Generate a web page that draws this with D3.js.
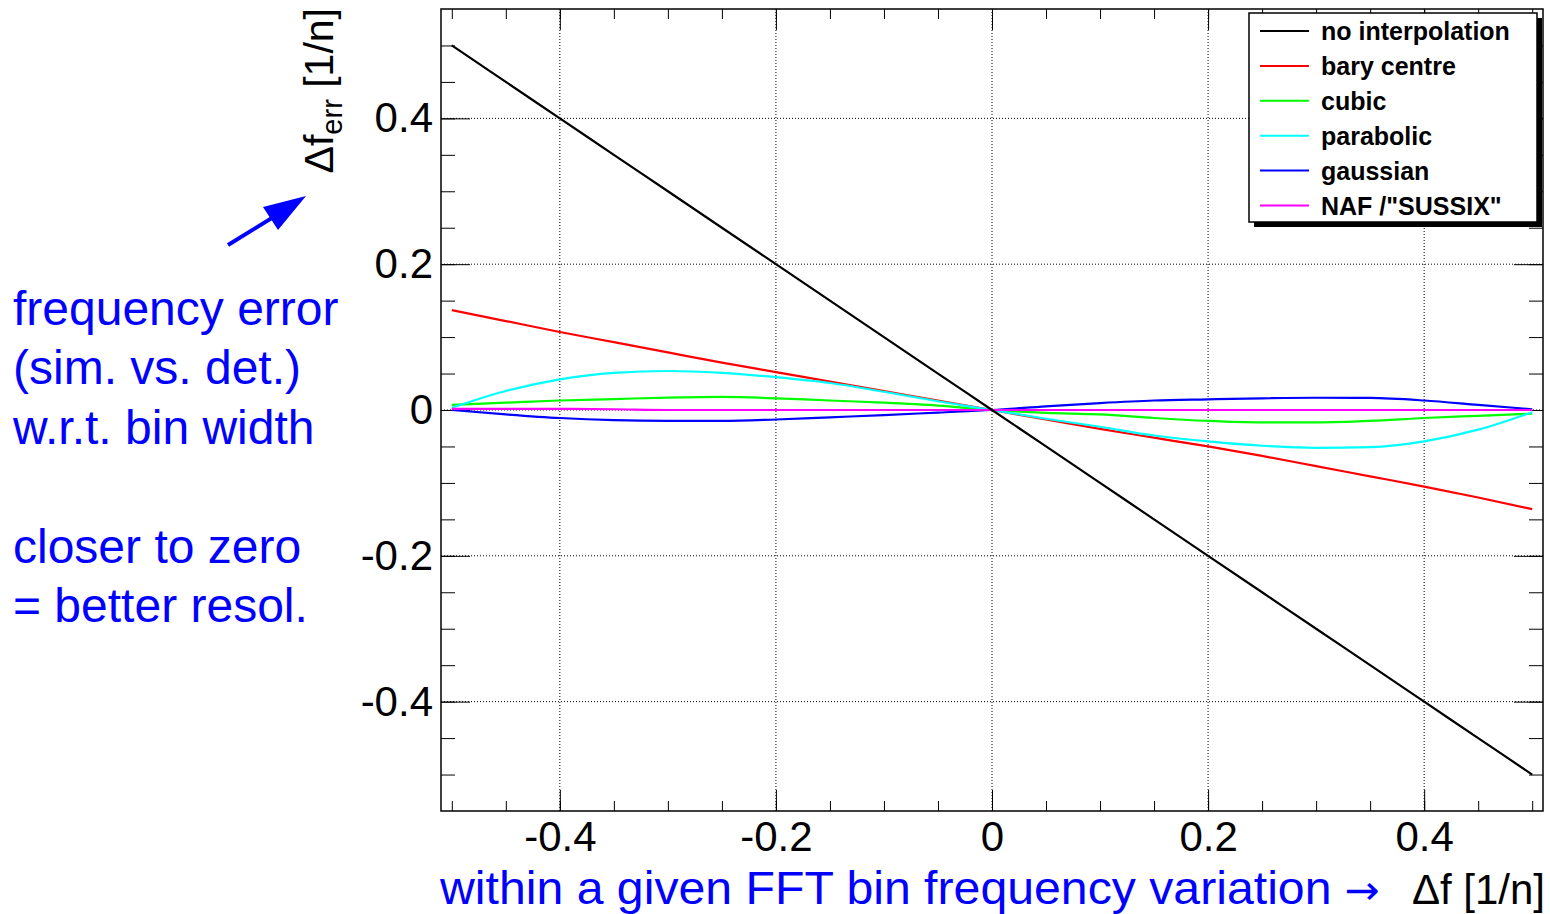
<!DOCTYPE html>
<html>
<head>
<meta charset="utf-8">
<script src="https://cdn.jsdelivr.net/npm/d3@7"></script>
<style>
  body { margin: 0; background: #fff; }
  svg { font-family: 'Liberation Sans', Arial, Helvetica, sans-serif; }
  .tick text { font-size: 42px; fill: #000; }
  .tick line { stroke: #000; }
  .legend-text { font-size: 25px; font-weight: bold; }
  .note { fill: #0000ff; font-size: 48px; }
</style>
</head>
<body>
<svg width="1550" height="914"></svg>
<script>
// frequency offset within the FFT bin [1/n]
const deltaF = [-0.5, -0.45, -0.4, -0.35, -0.3, -0.25, -0.2, -0.15, -0.1, -0.05, 0,
  0.05, 0.1, 0.15, 0.2, 0.25, 0.3, 0.35, 0.4, 0.45, 0.5];

// frequency error per method [1/n]
const noInterpolation = [0.5, 0.45, 0.4, 0.35, 0.3, 0.25, 0.2, 0.15, 0.1, 0.05, 0,
  -0.05, -0.1, -0.15, -0.2, -0.25, -0.3, -0.35, -0.4, -0.45, -0.5];
const baryCentre = [0.137, 0.122, 0.107, 0.093, 0.079, 0.065, 0.052, 0.039, 0.026, 0.013, 0,
  -0.013, -0.026, -0.038, -0.050, -0.063, -0.077, -0.091, -0.105, -0.120, -0.136];
const cubic = [0.007, 0.010, 0.013, 0.015, 0.017, 0.018, 0.016, 0.013, 0.010, 0.006, 0,
  -0.004, -0.006, -0.011, -0.015, -0.017, -0.017, -0.015, -0.011, -0.008, -0.005];
const parabolic = [0.003, 0.026, 0.042, 0.051, 0.0535, 0.051, 0.045, 0.037, 0.025, 0.012, 0,
  -0.012, -0.023, -0.035, -0.043, -0.049, -0.052, -0.051, -0.043, -0.027, -0.003];
const gaussian = [0.000, -0.006, -0.011, -0.014, -0.015, -0.015, -0.013, -0.010, -0.007, -0.0035, 0,
  0.005, 0.0095, 0.013, 0.0146, 0.016, 0.0168, 0.0165, 0.013, 0.007, 0.001];
const nafSussix = [0.0015, 0.0015, 0.0015, 0.001, 0, 0, 0, 0, 0, 0, 0,
  0, 0, 0, 0, 0, 0, 0, 0, 0, 0];

const seriesNames = ['no interpolation', 'bary centre', 'cubic', 'parabolic', 'gaussian', 'NAF /"SUSSIX"'];
const seriesColors = ['#000000', '#ff0000', '#00ff00', '#00ffff', '#0000ff', '#ff00ff'];
const seriesValues = [noInterpolation, baryCentre, cubic, parabolic, gaussian, nafSussix];

const majorTicks = [-0.4, -0.2, 0, 0.2, 0.4];
const minorTicks = [-0.5, -0.45, -0.4, -0.35, -0.3, -0.25, -0.2, -0.15, -0.1, -0.05, 0,
  0.05, 0.1, 0.15, 0.2, 0.25, 0.3, 0.35, 0.4, 0.45, 0.5];

const noteLines = ['frequency error', '(sim. vs. det.)', 'w.r.t. bin width', '', 'closer to zero', '= better resol.'];

const svg = d3.select('svg');

const frame = { left: 441, right: 1543, top: 9, bottom: 811 };

const xScale = d3.scaleLinear()
  .domain([-0.51, 0.51])
  .range([frame.left, frame.right]);

const yScale = d3.scaleLinear()
  .domain([-0.55, 0.55])
  .range([frame.bottom, frame.top]);

const fmt = d => d === 0 ? '0' : d3.format('.1f')(d).replace('−', '-');

// grid
const grid = svg.append('g');
grid.selectAll('.gx').data(majorTicks)
  .enter().append('line')
    .attr('x1', d => xScale(d)).attr('x2', d => xScale(d))
    .attr('y1', frame.top).attr('y2', frame.bottom)
    .attr('stroke', '#000').attr('stroke-width', 1)
    .attr('stroke-dasharray', '1,2');
grid.selectAll('.gy').data(majorTicks)
  .enter().append('line')
    .attr('y1', d => yScale(d)).attr('y2', d => yScale(d))
    .attr('x1', frame.left).attr('x2', frame.right)
    .attr('stroke', '#000').attr('stroke-width', 1)
    .attr('stroke-dasharray', '1,2');

// axes: ticks pointing inwards on all four sides
const addAxis = (axis, tx, ty) => {
  const g = svg.append('g')
    .attr('transform', `translate(${tx},${ty})`)
    .call(axis);
  g.select('.domain').remove();
  return g;
};

addAxis(d3.axisBottom(xScale).tickValues(minorTicks).tickFormat('').tickSize(-10), 0, frame.bottom);
addAxis(d3.axisBottom(xScale).tickValues(majorTicks).tickFormat(fmt).tickSize(-21).tickPadding(10), 0, frame.bottom);
addAxis(d3.axisTop(xScale).tickValues(minorTicks).tickFormat('').tickSize(-10), 0, frame.top);
addAxis(d3.axisTop(xScale).tickValues(majorTicks).tickFormat('').tickSize(-21), 0, frame.top);

addAxis(d3.axisLeft(yScale).tickValues(minorTicks).tickFormat('').tickSize(-14), frame.left, 0);
addAxis(d3.axisLeft(yScale).tickValues(majorTicks).tickFormat(fmt).tickSize(-29).tickPadding(8), frame.left, 0);
addAxis(d3.axisRight(yScale).tickValues(minorTicks).tickFormat('').tickSize(-14), frame.right, 0);
addAxis(d3.axisRight(yScale).tickValues(majorTicks).tickFormat('').tickSize(-29), frame.right, 0);

svg.selectAll('.tick text').attr('font-family', null);

// curves
const line = d3.line()
  .x((d, i) => xScale(deltaF[i]))
  .y(d => yScale(d))
  .curve(d3.curveMonotoneX);

const drawOrder = [1, 2, 3, 4, 5, 0];
svg.append('g').selectAll('path').data(drawOrder)
  .enter().append('path')
    .attr('d', k => line(seriesValues[k]))
    .attr('fill', 'none')
    .attr('stroke', k => seriesColors[k])
    .attr('stroke-width', 2.2);

// frame
svg.append('rect')
  .attr('x', frame.left).attr('y', frame.top)
  .attr('width', frame.right - frame.left)
  .attr('height', frame.bottom - frame.top)
  .attr('fill', 'none').attr('stroke', '#000').attr('stroke-width', 1.5);

// legend
const legend = { x: 1249, y: 13, w: 288, h: 209 };
svg.append('rect')
  .attr('x', legend.x + 5).attr('y', legend.y + 5)
  .attr('width', legend.w).attr('height', legend.h)
  .attr('fill', '#000');
svg.append('rect')
  .attr('x', legend.x).attr('y', legend.y)
  .attr('width', legend.w).attr('height', legend.h)
  .attr('fill', '#fff').attr('stroke', '#000').attr('stroke-width', 1.5);

const rowY = i => 31 + i * 34.9;
const legendG = svg.append('g');
legendG.selectAll('line').data(seriesNames)
  .enter().append('line')
    .attr('x1', 1260).attr('x2', 1309)
    .attr('y1', (d, i) => rowY(i)).attr('y2', (d, i) => rowY(i))
    .attr('stroke', (d, i) => seriesColors[i])
    .attr('stroke-width', 2);
legendG.selectAll('text').data(seriesNames)
  .enter().append('text')
    .attr('class', 'legend-text')
    .attr('x', 1321)
    .attr('y', (d, i) => rowY(i))
    .attr('dy', '0.36em')
    .text(d => d);

// y axis title
const yTitle = svg.append('text')
  .attr('transform', 'translate(333,8) rotate(-90)')
  .attr('text-anchor', 'end')
  .attr('font-size', 41);
yTitle.append('tspan').text('Δf');
yTitle.append('tspan').attr('font-size', 29).attr('dy', 9).text('err');
yTitle.append('tspan').attr('dy', -9).text(' [1/n]');

// x axis title
const xTitle = svg.append('text')
  .attr('x', 440).attr('y', 904)
  .attr('fill', '#0000ff')
  .attr('font-size', 46)
  .attr('textLength', 940)
  .attr('lengthAdjust', 'spacingAndGlyphs');
xTitle.append('tspan').text('within a given FFT bin frequency variation ');
xTitle.append('tspan').attr('font-family', 'DejaVu Sans').attr('font-size', 40).text('→');
svg.append('text')
  .attr('x', 1545).attr('y', 904)
  .attr('text-anchor', 'end')
  .attr('font-size', 42)
  .text('Δf [1/n]');

// left annotation
svg.append('g').selectAll('text').data(noteLines)
  .enter().append('text')
    .attr('class', 'note')
    .attr('x', 13)
    .attr('y', (d, i) => 325 + i * 59.4)
    .text(d => d);

svg.append('line')
  .attr('x1', 228).attr('y1', 245)
  .attr('x2', 280).attr('y2', 213)
  .attr('stroke', '#0000ff').attr('stroke-width', 4);
svg.append('polygon')
  .attr('points', '306,196 263,207 278,230')
  .attr('fill', '#0000ff');
</script>
</body>
</html>
